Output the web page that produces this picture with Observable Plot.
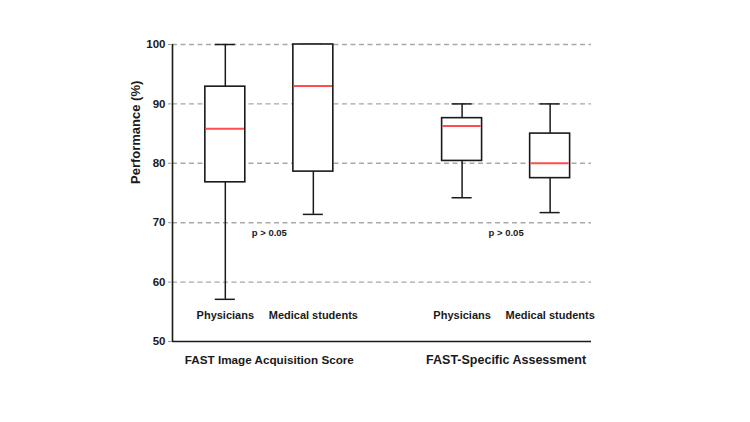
<!DOCTYPE html>
<html>
<head>
<meta charset="utf-8">
<script src="https://cdn.jsdelivr.net/npm/d3@7"></script>
<script src="https://cdn.jsdelivr.net/npm/@observablehq/plot@0.6"></script>
<style>
  html, body { margin: 0; padding: 0; background: #fff; }
  svg { font-family: "Liberation Sans", Arial, sans-serif; }
</style>
</head>
<body>
<div id="chart"></div>
<script>
// Assessment groups and the two cohorts compared within each
const groups = ["FAST Image Acquisition Score", "FAST-Specific Assessment"];
const cohorts = ["Physicians", "Medical students"];

// Box-plot summaries (%), ordered group by group, cohort by cohort
const mins    = [57.1, 71.4, 74.2, 71.7];
const q1s     = [76.8, 78.6, 80.4, 77.5];
const medians = [85.8, 93.0, 86.3, 80.0];
const q3s     = [92.9, 100,  87.6, 85.0];
const maxs    = [100,  100,  90.0, 90.0];

// Significance note per group
const pLabels = ["p > 0.05", "p > 0.05"];

// Y axis ticks
const yTicks = [50, 60, 70, 80, 90, 100];

// Layout: cohorts one unit apart, groups separated by a wider step
const GROUP_STEP = 2.69;
const BOX_HALF = 0.227;
const CAP_HALF = 0.114;

const rows = groups.flatMap((g, gi) =>
  cohorts.map((c, ci) => {
    const k = gi * cohorts.length + ci;
    return {
      group: g, cohort: c, slot: gi * GROUP_STEP + ci,
      min: mins[k], q1: q1s[k], median: medians[k], q3: q3s[k], max: maxs[k]
    };
  })
);

const font = "Liberation Sans, Arial, sans-serif";
const ink = "#1a1a1a";

const chart = Plot.plot({
  width: 750,
  height: 422,
  marginLeft: 172,
  marginRight: 159,
  marginTop: 44,
  marginBottom: 81,
  style: { fontFamily: font, background: "#fff" },
  x: { domain: [-0.6, 4.16], axis: null },
  y: { domain: [50, 100] },
  marks: [
    // dashed horizontal grid
    Plot.ruleY(yTicks.filter(t => t > 50), { stroke: "#a8a8a8", strokeWidth: 1.4, strokeDasharray: "5,3.5" }),
    // axis lines
    Plot.ruleY([50], { stroke: ink, strokeWidth: 1.6 }),
    Plot.ruleX([-0.6], { stroke: ink, strokeWidth: 1.6 }),
    Plot.axisY({
      ticks: yTicks, tickSize: 4, tickPadding: 3, label: null,
      stroke: "#9a9a9a", fontSize: 11.5, fontWeight: "bold", fill: ink
    }),
    Plot.text(["Performance (%)"], {
      frameAnchor: "left", dx: -37, dy: -9, rotate: -90,
      fontSize: 13, fontWeight: "bold", fill: ink
    }),
    // whiskers
    Plot.ruleX(rows, { x: "slot", y1: "min", y2: "q1", stroke: ink, strokeWidth: 1.5 }),
    Plot.ruleX(rows, { x: "slot", y1: "q3", y2: "max", stroke: ink, strokeWidth: 1.5 }),
    Plot.ruleY(rows, { y: "min", x1: d => d.slot - CAP_HALF, x2: d => d.slot + CAP_HALF, stroke: ink, strokeWidth: 1.5 }),
    Plot.ruleY(rows, { y: "max", x1: d => d.slot - CAP_HALF, x2: d => d.slot + CAP_HALF, stroke: ink, strokeWidth: 1.5 }),
    // boxes
    Plot.rect(rows, {
      x1: d => d.slot - BOX_HALF, x2: d => d.slot + BOX_HALF,
      y1: "q1", y2: "q3", fill: "white", stroke: ink, strokeWidth: 1.6
    }),
    // medians
    Plot.ruleY(rows, {
      y: "median", x1: d => d.slot - BOX_HALF + 0.01, x2: d => d.slot + BOX_HALF - 0.01,
      stroke: "#ff4d4d", strokeWidth: 2
    }),
    // cohort labels inside the plot, just above the baseline
    Plot.text(rows, {
      x: "slot", frameAnchor: "bottom", dy: -23, text: "cohort",
      fontSize: 11, fontWeight: "bold", fill: ink
    }),
    // group labels below the baseline
    Plot.text(groups, {
      x: (d, i) => i * GROUP_STEP + 0.5, frameAnchor: "bottom", dy: 22, text: d => d,
      fontSize: (d, i) => (i === 0 ? 11.7 : 12.5), fontWeight: "bold", fill: ink
    }),
    // significance notes
    Plot.text(pLabels, {
      x: (d, i) => i * GROUP_STEP + 0.5, y: () => 70, dy: 10, text: d => d,
      fontSize: 9.5, fontWeight: "bold", fill: ink
    })
  ]
});

document.getElementById("chart").appendChild(chart);
</script>
</body>
</html>
